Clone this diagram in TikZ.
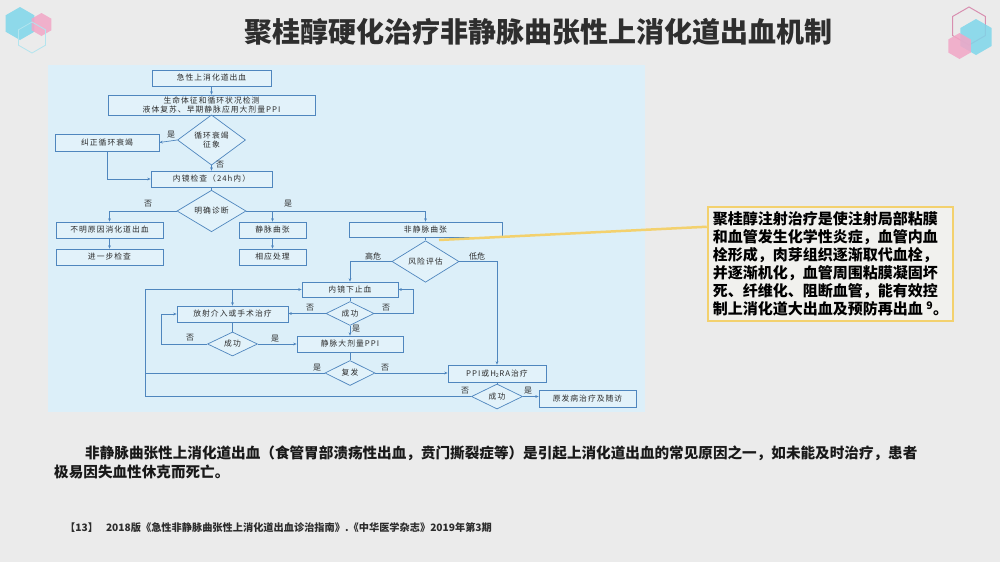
\documentclass[tikz,border=0pt]{standalone}
\usepackage{fontspec}
\setmainfont{Noto Sans CJK SC}
\newfontfamily\fcfont{Noto Sans CJK SC}[LetterSpace=13]
\usetikzlibrary{arrows.meta,shapes.geometric,calc}
\definecolor{bg}{HTML}{EBEBEB}
\definecolor{panel}{HTML}{DCEFF9}
\definecolor{boxf}{HTML}{E2F2FA}
\definecolor{fl}{HTML}{4F86BE}
\definecolor{ft}{HTML}{2C2C2C}
\definecolor{yl}{HTML}{F3D16E}
\definecolor{cfill}{HTML}{F1F1EE}
\definecolor{cy}{HTML}{7ED6EA}
\definecolor{pk}{HTML}{F2A6C6}
\definecolor{pkline}{HTML}{D88FB0}
\definecolor{cyline}{HTML}{B2E4EE}
\definecolor{tt}{HTML}{2E2E2E}
\begin{document}
\begin{tikzpicture}[x=1pt,y=-1pt,
  fbox/.style={draw=fl, line width=0.7pt, fill=boxf, inner sep=0pt, font=\fcfont\fontsize{7.8}{8.8}\selectfont, text=ft, align=center},
  fdia/.style={fbox, diamond},
  sz/.style 2 args={minimum width=#1pt, minimum height=#2pt},
  ln/.style={draw=fl, line width=0.7pt},
  ar/.style={ln, -{Stealth[length=3.4pt,width=2.8pt]}},
  lab/.style={font=\fontsize{8}{8.5}\selectfont, text=ft, inner sep=0pt},
  hexf/.style={regular polygon, regular polygon sides=6, shape border rotate=30, inner sep=0pt, draw=none},
]
\useasboundingbox (0,0) rectangle (1000,562);
\fill[bg] (0,0) rectangle (1000,562);

% decorations
\node[hexf, minimum size=33pt, fill=cy, fill opacity=0.85] (h1) at (20,23.5) {};
\node[hexf, minimum size=23pt, fill=pk, fill opacity=0.85] (h2) at (41.5,24.5) {};
\node[hexf, minimum size=31pt, draw=cyline, line width=0.8pt] (h3) at (32,37.5) {};
\node[hexf, minimum size=38pt, draw=pkline, line width=1pt] (h4) at (969,26) {};
\node[hexf, minimum size=36pt, fill=cy, fill opacity=0.85] (h5) at (976,37) {};
\node[hexf, minimum size=26pt, fill=pk, fill opacity=0.85] (h6) at (959.5,46) {};

% title
\node[text=tt, font=\bfseries\fontsize{28}{30}\selectfont] (title) at (538.5,32) {聚桂醇硬化治疗非静脉曲张性上消化道出血机制};

% panel
\fill[panel] (48,65) rectangle (645,412);

% nodes
\node[fbox, sz={119}{16}] (n1) at (211.5,78) {急性上消化道出血};
\node[fbox, sz={207}{20}] (n2) at (211.5,105) {生命体征和循环状况检测\\液体复苏、早期静脉应用大剂量PPI};
\node[fdia, sz={68}{34}] (d1) at (211.5,140) {循环衰竭\\征象};
\node[fbox, sz={104}{17}] (n3) at (107,142.5) {纠正循环衰竭};
\node[fbox, sz={121}{16}] (n4) at (211.5,179) {内镜检查（24h内）};
\node[fdia, sz={69}{32}] (d2) at (211.5,211) {明确诊断};
\node[fbox, sz={107}{16}] (n5) at (109.5,230) {不明原因消化道出血};
\node[fbox, sz={107}{16}] (n6) at (109.5,257) {进一步检查};
\node[fbox, sz={67}{16}] (n7) at (272.5,230) {静脉曲张};
\node[fbox, sz={67}{16}] (n8) at (272.5,257) {相应处理};
\node[fbox, sz={153}{15}] (n9) at (425.5,229.5) {非静脉曲张};
\node[fdia, sz={67}{33}] (d3) at (425.5,261.5) {风险评估};
\node[fbox, sz={96}{15}] (n10) at (350,289.5) {内镜下止血};
\node[fdia, sz={48}{23}] (d4) at (350,313.5) {成功};
\node[fbox, sz={111}{16}] (n11) at (232.5,314) {放射介入或手术治疗};
\node[fdia, sz={50}{24}] (d5) at (232.5,344) {成功};
\node[fbox, sz={106}{16}] (n12) at (350,344) {静脉大剂量PPI};
\node[fdia, sz={50}{25}] (d6) at (350,373) {复发};
\node[fbox, sz={98}{17}] (n13) at (497,373.5) {PPI或H\textsubscript{2}RA治疗};
\node[fdia, sz={51}{25}] (d7) at (497,396.5) {成功};
\node[fbox, sz={97}{17}] (n14) at (587.5,398.5) {原发病治疗及随访};

% coordinates
\coordinate (r1) at (413,313.5);
\coordinate (l5) at (161,344);
\coordinate (lt) at (145,289.5);
\coordinate (lm) at (145,373);
\coordinate (lb) at (145,396.5);

% connectors
\draw[ar] (n1) -- (n2);
\draw[ln] (n2) -- (d1);
\draw[ar] (d1) -- (n4);
\draw[ar] (d1.west) -- (n3.east);
\draw[ar] (n3.south) |- (n4.west);
\draw[ln] (n4) -- (d2);
\draw[ar] (d2.west) -| (n5.north);
\draw[ar] (n5) -- (n6);
\draw[ar] (d2.east) -| (n9.north);
\draw[ar] (d2.east -| n7.north) -- (n7.north);
\draw[ar] (n7) -- (n8);
\draw[ln] (n9) -- (d3);
\draw[ar] (d3.west) -| (n10.north);
\draw[ar] (d3.east) -| (n13.north);
\draw[ln] (n10) -- (d4);
\draw[ar] (d4.east) -- (r1) |- (n10.east);
\draw[ar] (d4.west) -- (d4.west -| n11.east);
\draw[ar] (d4.south) -- (n12.north);
\draw[ln] (n11) -- (d5);
\draw[ar] (d5.east) -- (n12.west);
\draw[ar] (d5.west) -- (l5) |- (n11.west);
\draw[ln] (n12) -- (d6);
\draw[ar] (d6.east) -- (d6.east -| n13.west);
\draw[ln] (n13) -- (d7);
\draw[ar] (d7.east) -- (d7.east -| n14.west);
\draw[ar] (d7.west) -- (lb) -- (lt) -- (n10.west);
\draw[ln] (d6.west) -- (lm);
\draw[ar] (n11.north |- lt) -- (n11.north);

% labels
\node[lab] (t1) at (171,135) {是};
\node[lab] (t2) at (220,165) {否};
\node[lab] (t3) at (148,204) {否};
\node[lab] (t4) at (288,204) {是};
\node[lab] (t5) at (373,256) {高危};
\node[lab] (t6) at (477,256) {低危};
\node[lab] (t7) at (310,308) {否};
\node[lab] (t8) at (386,308) {否};
\node[lab] (t9) at (356,329) {是};
\node[lab] (t10) at (190,338) {否};
\node[lab] (t11) at (275,339) {是};
\node[lab] (t12) at (317,368) {是};
\node[lab] (t13) at (385,368) {否};
\node[lab] (t14) at (465,391) {否};
\node[lab] (t15) at (528,391) {是};

% callout
\node[draw=yl, line width=2.5pt, fill=cfill, sz={245}{114}, inner sep=0pt, align=left, font=\bfseries\fontsize{15}{18}\selectfont, text=black] (callout) at (830.5,264)
{聚桂醇注射治疗是使注射局部粘膜\\和血管发生化学性炎症，血管内血\\栓形成，肉芽组织逐渐取代血栓，\\并逐渐机化，血管周围粘膜凝固坏\\死、纤维化、阻断血管，能有效控\\制上消化道大出血及预防再出血 \textsuperscript{9}。};
\coordinate (ys) at (439,240);
\coordinate (ye) at ($(callout.north west)+(0,21)$);
\draw[yl, line width=2.5pt] (ys) -- (ye);

% body text
\node[anchor=west, inner sep=0pt, font=\bfseries\fontsize{14.6}{16}\selectfont, text=black!90] (p1) at (85,453) {非静脉曲张性上消化道出血（食管胃部溃疡性出血，贲门撕裂症等）是引起上消化道出血的常见原因之一，如未能及时治疗，患者};
\node[anchor=west, inner sep=0pt, font=\bfseries\fontsize{14.6}{16}\selectfont, text=black!90] (p2) at (54,472) {极易因失血性休克而死亡。};
\node[anchor=west, inner sep=0pt, font=\bfseries\fontsize{10.2}{12}\selectfont, text=ft] (ref) at (65,528) {【13】\hspace{8pt}2018版《急性非静脉曲张性上消化道出血诊治指南》.《中华医学杂志》2019年第3期};
\end{tikzpicture}
\end{document}
